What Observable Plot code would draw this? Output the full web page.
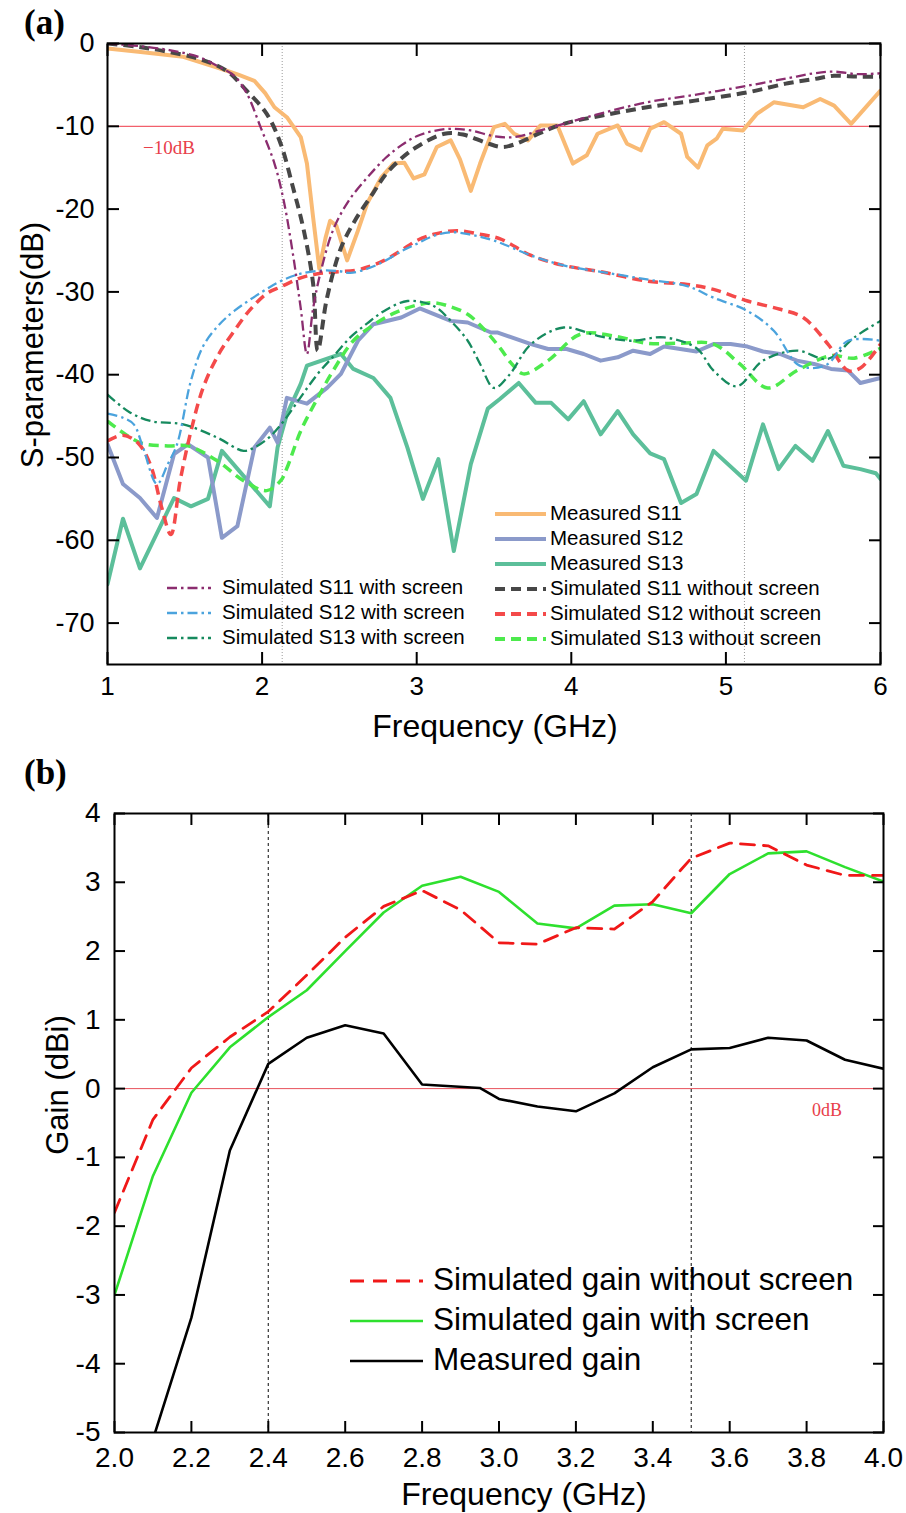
<!DOCTYPE html>
<html><head><meta charset="utf-8">
<script src="https://cdn.jsdelivr.net/npm/d3@7"></script>
<script src="https://cdn.jsdelivr.net/npm/@observablehq/plot@0.6"></script>
<style>
body{margin:0;background:#fff;}
#root{position:relative;width:906px;height:1513px;overflow:hidden;font-family:"Liberation Sans",Arial,sans-serif;color:#000;}
.abs{position:absolute;white-space:nowrap;line-height:1;}
</style></head><body><div id="root"></div>
<script>
// ---------- Panel (a) data: S-parameters ----------
const s11MeasF = [1.0,1.2,1.49,1.71,1.85,1.95,2.02,2.08,2.16,2.25,2.29,2.33,2.37,2.41,2.44,2.48,2.55,2.62,2.68,2.77,2.85,2.92,2.98,3.05,3.13,3.22,3.28,3.35,3.41,3.5,3.57,3.63,3.72,3.8,3.91,4.01,4.1,4.17,4.3,4.36,4.45,4.51,4.6,4.71,4.75,4.82,4.88,4.94,4.98,5.11,5.2,5.31,5.5,5.61,5.7,5.81,6.0];
const s11MeasDb = [-0.6,-1.0,-1.6,-2.9,-3.8,-4.5,-6.0,-7.7,-8.9,-11.3,-14.5,-21,-27.2,-23.5,-21.4,-22,-26.2,-22.6,-19.3,-16.2,-14.5,-14.4,-16.3,-15.8,-12.5,-11.7,-14,-17.8,-14.5,-10.1,-9.7,-10.9,-11.7,-9.9,-9.9,-14.5,-13.5,-10.9,-9.9,-12.1,-12.9,-10.3,-9.5,-10.9,-13.7,-15.0,-12.3,-11.5,-10.3,-10.5,-8.5,-7.1,-7.7,-6.7,-7.5,-9.7,-5.7];

const s12MeasF = [1.0,1.1,1.21,1.32,1.43,1.52,1.65,1.74,1.84,1.95,2.05,2.1,2.16,2.29,2.42,2.51,2.62,2.72,2.9,3.02,3.22,3.33,3.48,3.52,3.74,3.85,3.97,4.08,4.19,4.3,4.4,4.51,4.6,4.81,4.92,5.03,5.14,5.24,5.35,5.46,5.57,5.68,5.79,5.87,6.0];
const s12MeasDb = [-48.4,-53.2,-54.9,-57.3,-49.6,-48.4,-50,-59.7,-58.3,-48.8,-46.4,-48.2,-42.8,-43.5,-41.6,-39.9,-35.9,-33.9,-33.1,-32.0,-33.5,-33.7,-34.9,-34.9,-36.3,-36.9,-36.9,-37.5,-38.3,-37.9,-37.1,-37.5,-36.6,-37.2,-36.3,-36.3,-36.6,-37.2,-37.5,-38.3,-38.7,-39.3,-39.5,-41,-40.4];

const s13MeasF = [1.0,1.1,1.21,1.43,1.54,1.65,1.74,2.05,2.1,2.16,2.25,2.29,2.51,2.59,2.72,2.83,2.94,3.04,3.14,3.24,3.35,3.46,3.54,3.66,3.77,3.87,3.98,4.08,4.19,4.3,4.4,4.51,4.6,4.71,4.81,4.92,5.13,5.24,5.34,5.45,5.56,5.66,5.76,5.87,5.97,6.0];
const s13MeasDb = [-65.3,-57.4,-63.4,-54.9,-55.9,-55,-49.2,-55.9,-48.8,-44.8,-41.1,-38.9,-37.5,-39.3,-40.4,-42.8,-48.8,-55,-50.2,-61.3,-50.8,-44.1,-42.9,-41,-43.4,-43.4,-45.4,-43.2,-47.2,-44.4,-47.2,-49.5,-50.2,-55.5,-54.4,-49.2,-52.8,-46,-51.4,-48.6,-50.4,-46.8,-51,-51.4,-51.9,-52.6];

const s11NoScrF = [1.0,1.2,1.39,1.6,1.77,1.9,2.03,2.12,2.2,2.27,2.33,2.36,2.42,2.51,2.6,2.72,2.8,2.9,3.0,3.18,3.3,3.45,3.55,3.63,3.8,3.95,4.2,4.49,4.8,5.14,5.4,5.57,5.7,5.85,6.0];
const s11NoScrDb = [0,-0.4,-1.0,-1.9,-3.3,-5.7,-8.5,-12.1,-17.4,-22.6,-29,-37.1,-30.7,-24.7,-21.4,-18,-15.8,-13.9,-12.5,-10.9,-11.0,-12.0,-12.5,-12.2,-10.8,-9.7,-8.7,-7.7,-6.9,-5.9,-4.8,-4.3,-3.9,-4.0,-4.0];

const s12NoScrF = [1.0,1.1,1.2,1.28,1.35,1.41,1.47,1.54,1.62,1.72,1.82,1.92,2.03,2.12,2.25,2.36,2.46,2.6,2.7,2.79,2.9,3.0,3.12,3.26,3.4,3.54,3.74,3.95,4.2,4.49,4.75,4.92,5.14,5.35,5.5,5.66,5.79,5.87,6.0];
const s12NoScrDb = [-48,-47.3,-48.3,-51,-56,-59.3,-52.8,-46.8,-41.5,-37.5,-34.7,-32.2,-30.2,-29.4,-28.3,-27.8,-27.6,-27.4,-26.9,-26.2,-25.0,-23.8,-23.0,-22.6,-23.0,-23.6,-25.6,-26.8,-27.6,-28.7,-29.1,-29.7,-31.1,-32.1,-33.1,-36.3,-39.5,-39.2,-36.3];

const s13NoScrF = [1.0,1.21,1.39,1.52,1.71,1.88,2.03,2.12,2.16,2.25,2.36,2.46,2.59,2.72,2.85,3.0,3.11,3.22,3.33,3.45,3.54,3.62,3.69,3.85,4.06,4.27,4.49,4.71,4.92,5.09,5.27,5.46,5.68,5.83,6.0];
const s13NoScrDb = [-45.6,-48.2,-48.6,-48.6,-50.4,-52.8,-54,-52.8,-51.3,-46.8,-42.8,-39.5,-35.9,-34.0,-32.6,-31.6,-31.3,-31.8,-32.7,-34.8,-36.8,-38.8,-39.9,-38.3,-35.1,-35.3,-36.2,-36.2,-36.3,-38.7,-41.6,-39.5,-37.7,-38,-36.8];

const s11ScrF = [1.0,1.2,1.4,1.6,1.73,1.82,1.9,1.99,2.08,2.14,2.2,2.25,2.29,2.33,2.38,2.46,2.56,2.68,2.8,2.9,3.0,3.1,3.22,3.35,3.5,3.63,3.8,3.95,4.2,4.49,4.8,5.14,5.4,5.57,5.7,5.85,6.0];
const s11ScrDb = [0,-0.3,-0.8,-1.7,-2.9,-3.9,-6.0,-10.1,-14.5,-19,-25.5,-32,-37.5,-32,-27.5,-22.5,-19,-16.2,-13.8,-12.3,-11.2,-10.6,-10.3,-10.5,-11.2,-11.3,-10.5,-9.7,-8.4,-7.1,-6.2,-5.1,-4.2,-3.6,-3.4,-3.7,-3.6];

const s12ScrF = [1.0,1.1,1.17,1.23,1.32,1.39,1.45,1.54,1.62,1.72,1.82,2.0,2.12,2.25,2.4,2.5,2.57,2.68,2.79,2.9,3.0,3.1,3.22,3.35,3.5,3.74,3.95,4.2,4.49,4.75,4.92,5.14,5.31,5.46,5.56,5.66,5.79,6.0];
const s12ScrDb = [-44.7,-45.2,-46,-48.8,-53.2,-50.8,-48.4,-40.7,-36.5,-34,-32.3,-30,-28.7,-27.8,-27.4,-27.5,-27.7,-27.2,-26.3,-25.1,-24.2,-23.3,-22.8,-23.1,-23.8,-25.6,-26.8,-27.6,-28.5,-29.3,-30.7,-32.3,-34.7,-38.7,-39.2,-38.7,-35.9,-35.9];

const s13ScrF = [1.0,1.14,1.28,1.49,1.71,1.88,1.95,2.05,2.14,2.25,2.36,2.47,2.57,2.68,2.79,2.94,3.11,3.22,3.33,3.41,3.5,3.6,3.74,3.95,4.17,4.38,4.6,4.81,4.92,5.07,5.24,5.46,5.66,5.83,6.0];
const s13ScrDb = [-42.4,-44.5,-45.6,-46,-47.6,-49.2,-48.8,-47.5,-45.6,-42.7,-39.9,-37.6,-35.5,-33.8,-32.3,-31.1,-31.7,-33.5,-35.9,-38.7,-41.6,-40,-36.3,-34.3,-35.3,-35.9,-35.5,-36.8,-39.5,-41.4,-38.3,-37.1,-38.1,-35.5,-33.5];

const xTicksA = [1, 2, 3, 4, 5, 6];
const yTicksA = [0, -10, -20, -30, -40, -50, -60, -70];
const refLevelA = [-10];
const markerFreqsA = [2.13, 5.12];

// ---------- Panel (b) data: gain ----------
const gainSimF = [2.0,2.1,2.2,2.3,2.4,2.5,2.6,2.7,2.8,2.9,3.0,3.1,3.2,3.3,3.4,3.5,3.6,3.7,3.8,3.9,4.0];
const gainNoScreen = [-1.8,-0.45,0.3,0.75,1.12,1.65,2.2,2.65,2.88,2.6,2.12,2.1,2.34,2.32,2.72,3.35,3.57,3.53,3.25,3.1,3.1];
const gainScreen = [-3.0,-1.27,-0.06,0.6,1.04,1.43,2.0,2.56,2.95,3.08,2.86,2.4,2.33,2.66,2.68,2.55,3.12,3.42,3.45,3.22,3.01];
const gainMeasF = [2.1,2.2,2.3,2.4,2.5,2.6,2.7,2.8,2.95,3.0,3.1,3.2,3.3,3.4,3.5,3.6,3.7,3.8,3.9,4.0];
const gainMeas = [-5.1,-3.33,-0.9,0.36,0.74,0.92,0.8,0.06,0.01,-0.15,-0.26,-0.33,-0.07,0.31,0.57,0.59,0.74,0.7,0.42,0.29];

const xTicksB = [2.0,2.2,2.4,2.6,2.8,3.0,3.2,3.4,3.6,3.8,4.0];
const yTicksB = [4,3,2,1,0,-1,-2,-3,-4,-5];
const refLevelB = [0];
const markerFreqsB = [2.4, 3.5];

// ---------- styles ----------
const C = {
  s11m:"#F9BA74", s12m:"#8B9ACA", s13m:"#5CBF9A",
  s11n:"#474747", s12n:"#F44A4A", s13n:"#4DEA4D",
  s11s:"#8B2D6F", s12s:"#4BA3DD", s13s:"#168A5E",
  gNo:"#F01818", gSc:"#2EE02E", gMe:"#000000"
};
const DASH = "10,6", DASHDOT = "10,4,2.5,4";
const tbl = (fs, vs) => fs.map((f, i) => ({f, v: vs[i]}));
const root = document.getElementById("root");

function place(el, left, top) {
  const d = document.createElement("div");
  d.className = "abs"; d.style.left = left + "px"; d.style.top = top + "px";
  d.appendChild(el); root.appendChild(d); return d;
}
function label(text, {x, y, size, family = '"Liberation Sans",Arial,sans-serif', weight = "normal", color = "#000", rotate = 0, align = "center"}) {
  const d = document.createElement("div");
  d.className = "abs"; d.textContent = text;
  d.style.fontSize = size + "px"; d.style.fontFamily = family; d.style.fontWeight = weight; d.style.color = color;
  d.style.left = x + "px"; d.style.top = y + "px";
  const tx = align === "center" ? "-50%" : "0";
  d.style.transform = `translate(${tx},-50%)` + (rotate ? ` rotate(${rotate}deg)` : "");
  root.appendChild(d); return d;
}
function legendRows(items, {x1, x2, tx, ys, size}) {
  items.forEach((it, i) => {
    const svg = document.createElementNS("http://www.w3.org/2000/svg", "svg");
    svg.setAttribute("width", x2 - x1 + 4); svg.setAttribute("height", 12);
    const ln = document.createElementNS("http://www.w3.org/2000/svg", "line");
    ln.setAttribute("x1", 2); ln.setAttribute("x2", x2 - x1 + 2); ln.setAttribute("y1", 6); ln.setAttribute("y2", 6);
    ln.setAttribute("stroke", it.color); ln.setAttribute("stroke-width", it.width);
    if (it.dash) ln.setAttribute("stroke-dasharray", it.dash);
    svg.appendChild(ln);
    place(svg, x1 - 2, ys[i] - 6);
    label(it.text, {x: tx, y: ys[i], size, align: "left"});
  });
}

const common = {
  style: {background: "transparent", overflow: "visible", fontFamily: '"Liberation Sans",Arial,sans-serif', fontSize: "26px", color: "#000"}
};

// ---------- Panel (a) ----------
const lineA = (f, v, stroke, w, dash, curve) => Plot.line(tbl(f, v), {x: "f", y: "v", stroke, strokeWidth: w, strokeDasharray: dash, curve, strokeLinejoin: "round", strokeLinecap: dash ? "butt" : "round", clip: true});
const plotA = Plot.plot({
  ...common,
  width: 906, height: 760,
  marginLeft: 107, marginRight: 26, marginTop: 43, marginBottom: 96,
  x: {domain: [1, 6]},
  y: {domain: [-75, 0]},
  marks: [
    Plot.ruleY(refLevelA, {stroke: "#F2606C", strokeWidth: 1.3}),
    Plot.ruleX(markerFreqsA, {stroke: "#9a9a9a", strokeWidth: 1, strokeDasharray: "1,2"}),
    lineA(s13MeasF, s13MeasDb, C.s13m, 4, null, "linear"),
    lineA(s12MeasF, s12MeasDb, C.s12m, 4, null, "linear"),
    lineA(s11MeasF, s11MeasDb, C.s11m, 4, null, "linear"),
    lineA(s13NoScrF, s13NoScrDb, C.s13n, 3.5, DASH, "catmull-rom"),
    lineA(s12NoScrF, s12NoScrDb, C.s12n, 3.5, DASH, "catmull-rom"),
    lineA(s11NoScrF, s11NoScrDb, C.s11n, 4, DASH, "catmull-rom"),
    lineA(s13ScrF, s13ScrDb, C.s13s, 2.3, DASHDOT, "catmull-rom"),
    lineA(s12ScrF, s12ScrDb, C.s12s, 2.3, DASHDOT, "catmull-rom"),
    lineA(s11ScrF, s11ScrDb, C.s11s, 2.3, DASHDOT, "catmull-rom"),
    Plot.frame({stroke: "#000", strokeWidth: 2}),
    Plot.axisX({ticks: xTicksA, anchor: "bottom", tickSize: -12, tickPadding: 24, strokeWidth: 2, fontSize: 26, label: null, tickFormat: d => String(d)}),
    Plot.axisX({ticks: xTicksA, anchor: "top", tickSize: -12, strokeWidth: 2, label: null, tickFormat: () => ""}),
    Plot.axisY({ticks: yTicksA, anchor: "left", tickSize: -12, tickPadding: 25, strokeWidth: 2, fontSize: 27, label: null, tickFormat: d => String(d)}),
    Plot.axisY({ticks: yTicksA, anchor: "right", tickSize: -12, strokeWidth: 2, label: null, tickFormat: () => ""})
  ]
});
place(plotA, 0, 0);

// ---------- Panel (b) ----------
const lineB = (f, v, stroke, w, dash) => Plot.line(tbl(f, v), {x: "f", y: "v", stroke, strokeWidth: w, strokeDasharray: dash, strokeLinejoin: "round", clip: true});
const plotB = Plot.plot({
  ...common,
  width: 906, height: 753,
  marginLeft: 114, marginRight: 23, marginTop: 53, marginBottom: 81,
  x: {domain: [2, 4]},
  y: {domain: [-5, 4]},
  marks: [
    Plot.ruleY(refLevelB, {stroke: "#E8505A", strokeWidth: 1}),
    Plot.ruleX(markerFreqsB, {stroke: "#333", strokeWidth: 1.2, strokeDasharray: "3,3"}),
    lineB(gainMeasF, gainMeas, C.gMe, 2.6, null),
    lineB(gainSimF, gainScreen, C.gSc, 2.6, null),
    lineB(gainSimF, gainNoScreen, C.gNo, 2.8, "14,9"),
    Plot.frame({stroke: "#000", strokeWidth: 2}),
    Plot.axisX({ticks: xTicksB, anchor: "bottom", tickSize: -11, tickPadding: 26, strokeWidth: 2, fontSize: 28, label: null, tickFormat: d3.format(".1f")}),
    Plot.axisX({ticks: xTicksB, anchor: "top", tickSize: -11, strokeWidth: 2, label: null, tickFormat: () => ""}),
    Plot.axisY({ticks: yTicksB, anchor: "left", tickSize: -11, tickPadding: 25, strokeWidth: 2, fontSize: 28, label: null, tickFormat: d => String(d)}),
    Plot.axisY({ticks: yTicksB, anchor: "right", tickSize: -11, strokeWidth: 2, label: null, tickFormat: () => ""})
  ]
});
place(plotB, 0, 760);

// ---------- titles, labels, legends ----------
const serif = '"Liberation Serif","Times New Roman",serif';
label("(a)", {x: 24, y: 22, size: 35, family: serif, weight: "bold", align: "left"});
label("(b)", {x: 24, y: 772, size: 35, family: serif, weight: "bold", align: "left"});
label("S-parameters(dB)", {x: 32, y: 345, size: 31, rotate: -90});
label("Frequency (GHz)", {x: 495, y: 726, size: 32});
label("Gain (dBi)", {x: 57, y: 1085, size: 31, rotate: -90});
label("Frequency (GHz)", {x: 524, y: 1494, size: 32});
label("\u221210dB", {x: 143, y: 147, size: 19, family: serif, color: "#E8404A", align: "left"});
label("0dB", {x: 812, y: 1110, size: 18, family: serif, color: "#E8404A", align: "left"});

legendRows([
  {text: "Simulated S11 with screen", color: C.s11s, width: 2.5, dash: DASHDOT},
  {text: "Simulated S12 with screen", color: C.s12s, width: 2.5, dash: DASHDOT},
  {text: "Simulated S13 with screen", color: C.s13s, width: 2.5, dash: DASHDOT}
], {x1: 167, x2: 211, tx: 222, ys: [587, 612, 637], size: 20.5});
legendRows([
  {text: "Measured S11", color: C.s11m, width: 4},
  {text: "Measured S12", color: C.s12m, width: 4},
  {text: "Measured S13", color: C.s13m, width: 4},
  {text: "Simulated S11 without screen", color: C.s11n, width: 4, dash: "10,6"},
  {text: "Simulated S12 without screen", color: C.s12n, width: 4, dash: "10,6"},
  {text: "Simulated S13 without screen", color: C.s13n, width: 4, dash: "10,6"}
], {x1: 495, x2: 546, tx: 550, ys: [513, 538, 563, 588, 613, 638], size: 20.5});
legendRows([
  {text: "Simulated gain without screen", color: C.gNo, width: 2.8, dash: "14,9"},
  {text: "Simulated gain with screen", color: C.gSc, width: 2.6},
  {text: "Measured gain", color: C.gMe, width: 2.6}
], {x1: 350, x2: 423, tx: 433, ys: [1280, 1320, 1360], size: 31.5});
</script></body></html>
